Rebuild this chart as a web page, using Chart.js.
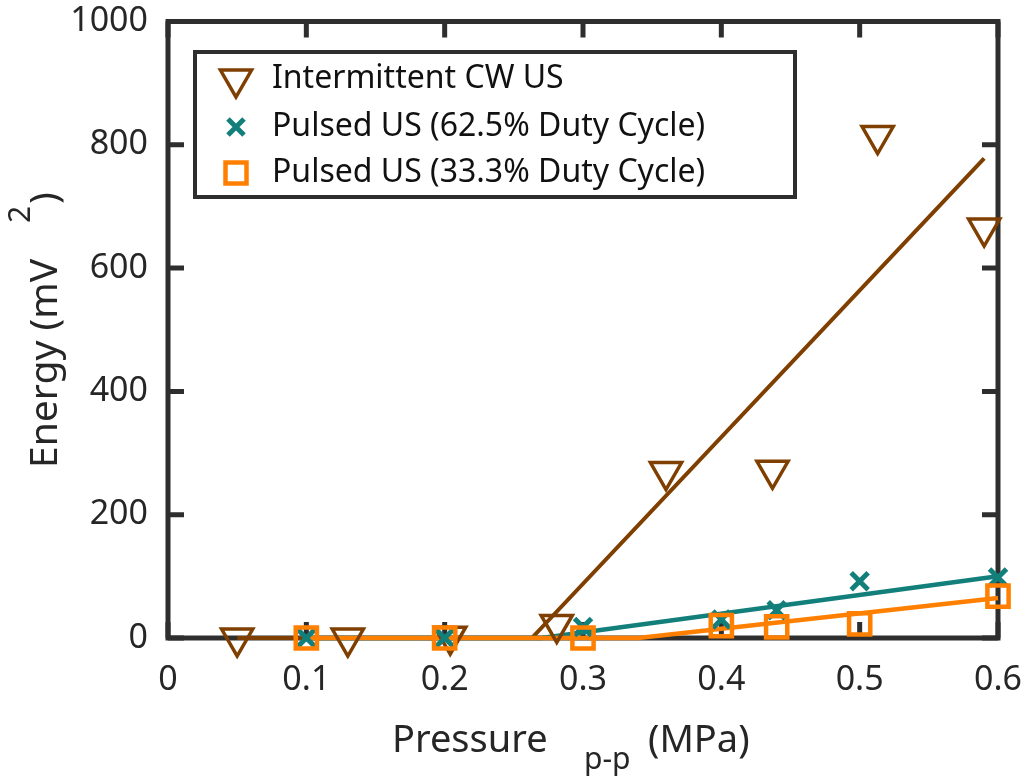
<!DOCTYPE html>
<html>
<head>
<meta charset="utf-8">
<script src="https://cdn.jsdelivr.net/npm/chart.js@4.4.1/dist/chart.umd.min.js"></script>
<style>
  html, body { margin: 0; padding: 0; background: #ffffff; }
  #wrap { width: 1023px; height: 780px; position: relative; }
</style>
</head>
<body>
<div id="wrap"><canvas id="c"></canvas></div>
<script>
// ---- Data ----
const xTickValues = [0, 0.1, 0.2, 0.3, 0.4, 0.5, 0.6];
const yTickValues = [0, 200, 400, 600, 800, 1000];

const seriesNames = ['Intermittent CW US', 'Pulsed US (62.5% Duty Cycle)', 'Pulsed US (33.3% Duty Cycle)'];

const pressureCW = [0.05, 0.13, 0.204, 0.281, 0.36, 0.437, 0.513, 0.59];
const energyCW   = [0, 0, 3, 22, 270, 272, 815, 665];

const pressureP625 = [0.1, 0.2, 0.3, 0.4, 0.44, 0.5, 0.6];
const energyP625   = [0, 0, 18, 30, 45, 92, 98];

const pressureP333 = [0.1, 0.2, 0.3, 0.4, 0.44, 0.5, 0.6];
const energyP333   = [0, 0, 0, 20, 18, 23, 68];

// fitted trend lines
const fitCWx   = [0.05, 0.263, 0.59];
const fitCWy   = [0, 0, 778];
const fitP625x = [0.1, 0.27, 0.6];
const fitP625y = [0, 0, 100];
const fitP333x = [0.1, 0.34, 0.6];
const fitP333y = [0, 0, 65];

// ---- Styles ----
const BROWN = '#7f3f00';
const TEAL = '#137f7b';
const ORANGE = '#ff8000';
const AXIS = '#2e2e2e';
const TEXT = '#262626';
const FONT = '"Noto Sans", "Open Sans", sans-serif';

function pts(xs, ys) { return xs.map((x, i) => ({ x: x, y: ys[i] })); }

const boxPlugin = {
  id: 'boxPlugin',
  beforeDatasetsDraw(chart) {
    const { ctx, chartArea: a, scales } = chart;
    ctx.save();
    ctx.strokeStyle = AXIS;
    ctx.lineWidth = 5;
    ctx.lineCap = 'butt';
    const tl = 16;
    ctx.beginPath();
    xTickValues.forEach(v => {
      const px = scales.x.getPixelForValue(v);
      ctx.moveTo(px, a.bottom); ctx.lineTo(px, a.bottom - tl);
      ctx.moveTo(px, a.top); ctx.lineTo(px, a.top + tl);
    });
    yTickValues.forEach(v => {
      const py = scales.y.getPixelForValue(v);
      ctx.moveTo(a.left, py); ctx.lineTo(a.left + tl, py);
      ctx.moveTo(a.right, py); ctx.lineTo(a.right - tl, py);
    });
    ctx.stroke();
    ctx.strokeRect(a.left, a.top, a.right - a.left, a.bottom - a.top);
    ctx.restore();
  },
  afterDraw(chart) {
    const { ctx } = chart;
    ctx.save();
    ctx.fillStyle = TEXT;
    ctx.textBaseline = 'alphabetic';
    // x-axis title with subscript
    ctx.font = '38px ' + FONT;
    ctx.textAlign = 'left';
    ctx.fillText('Pressure', 392, 752);
    ctx.font = '30px ' + FONT;
    ctx.fillText('p-p', 584, 769);
    ctx.font = '38px ' + FONT;
    ctx.fillText('(MPa)', 648, 752);

    // y-axis title (rotated) with superscript
    ctx.translate(57, 468);
    ctx.rotate(-Math.PI / 2);
    ctx.font = '39px ' + FONT;
    ctx.fillText('Energy (mV', 0, 0);
    ctx.font = '30px ' + FONT;
    ctx.fillText('2', 245, -27);
    ctx.font = '39px ' + FONT;
    ctx.fillText(')', 264, 0);
    ctx.restore();

    // legend
    ctx.save();
    const L = 195, T = 52, R = 795, B = 197;
    ctx.fillStyle = '#ffffff';
    ctx.fillRect(L, T, R - L, B - T);
    ctx.strokeStyle = AXIS;
    ctx.lineWidth = 4;
    ctx.strokeRect(L, T, R - L, B - T);
    const rows = [79, 127, 173];
    const mx = 236;
    // triangle (down)
    ctx.lineWidth = 3.5;
    ctx.strokeStyle = BROWN;
    const r = 18;
    ctx.beginPath();
    ctx.moveTo(mx, rows[0] + r);
    ctx.lineTo(mx - r * Math.sqrt(3) / 2, rows[0] - r / 2);
    ctx.lineTo(mx + r * Math.sqrt(3) / 2, rows[0] - r / 2);
    ctx.closePath();
    ctx.stroke();
    // cross
    ctx.strokeStyle = TEAL;
    ctx.lineWidth = 5;
    const c = 8;
    ctx.beginPath();
    ctx.moveTo(mx - c, rows[1] - c); ctx.lineTo(mx + c, rows[1] + c);
    ctx.moveTo(mx + c, rows[1] - c); ctx.lineTo(mx - c, rows[1] + c);
    ctx.stroke();
    // square
    ctx.strokeStyle = ORANGE;
    ctx.lineWidth = 4.5;
    ctx.strokeRect(mx - 10.5, rows[2] - 10.5, 21, 21);
    // text
    ctx.fillStyle = '#111111';
    ctx.font = '32px ' + FONT;
    ctx.textBaseline = 'middle';
    ctx.textAlign = 'left';
    seriesNames.forEach((n, i) => ctx.fillText(n, 272, rows[i]));
    ctx.restore();
  }
};

new Chart(document.getElementById('c'), {
  type: 'scatter',
  data: {
    datasets: [
      { label: 'fitP333', data: pts(fitP333x, fitP333y), showLine: true, pointRadius: 0, borderColor: ORANGE, borderWidth: 4.5, clip: false, order: 4 },
      { label: 'fitP625', data: pts(fitP625x, fitP625y), showLine: true, pointRadius: 0, borderColor: TEAL, borderWidth: 4.5, clip: false, order: 5 },
      { label: 'fitCW', data: pts(fitCWx, fitCWy), showLine: true, pointRadius: 0, borderColor: BROWN, borderWidth: 4, clip: false, order: 6 },
      { label: seriesNames[0], data: pts(pressureCW, energyCW), showLine: false, pointStyle: 'triangle', rotation: 180, pointRadius: 18, borderColor: BROWN, backgroundColor: 'rgba(0,0,0,0)', pointBorderWidth: 3.5, clip: false, order: 3 },
      { label: seriesNames[1], data: pts(pressureP625, energyP625), showLine: false, pointStyle: 'crossRot', pointRadius: 12, borderColor: TEAL, backgroundColor: TEAL, pointBorderWidth: 5, clip: false, order: 2 },
      { label: seriesNames[2], data: pts(pressureP333, energyP333), showLine: false, pointStyle: 'rect', pointRadius: 15, borderColor: ORANGE, backgroundColor: 'rgba(0,0,0,0)', pointBorderWidth: 4.5, clip: false, order: 1 }
    ]
  },
  options: {
    responsive: true,
    maintainAspectRatio: false,
    animation: false,
    events: [],
    layout: { padding: { top: 16, right: 25, left: 0, bottom: 0 } },
    plugins: { legend: { display: false }, tooltip: { enabled: false } },
    scales: {
      x: {
        type: 'linear', min: 0, max: 0.6,
        afterBuildTicks(scale) { scale.ticks = xTickValues.map(v => ({ value: v })); },
        afterFit(scale) { scale.height = 142; scale.paddingLeft = 0; scale.paddingRight = 0; },
        grid: { display: false, drawTicks: false },
        border: { display: false },
        ticks: {
          padding: 22, maxRotation: 0, autoSkip: false,
          color: TEXT, font: { family: FONT, size: 34 },
          callback: v => (v === 0 ? '0' : Number(v).toFixed(1))
        }
      },
      y: {
        type: 'linear', min: 0, max: 1000,
        afterBuildTicks(scale) { scale.ticks = yTickValues.map(v => ({ value: v })); },
        afterFit(scale) { scale.width = 168; scale.paddingTop = 0; scale.paddingBottom = 0; },
        grid: { display: false, drawTicks: false },
        border: { display: false },
        ticks: {
          padding: 20, autoSkip: false,
          color: TEXT, font: { family: FONT, size: 34 },
          callback: v => String(v)
        }
      }
    }
  },
  plugins: [boxPlugin]
});
</script>
</body>
</html>
